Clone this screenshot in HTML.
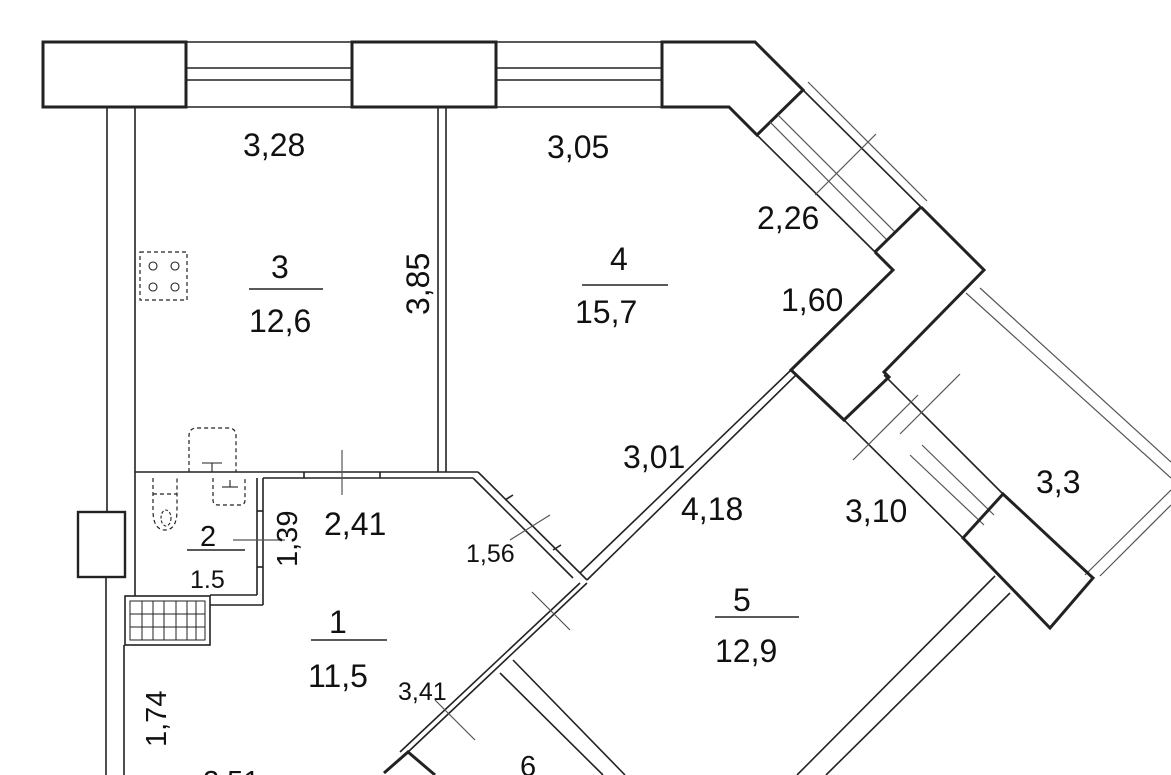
<!DOCTYPE html>
<html><head><meta charset="utf-8"><style>
html,body{margin:0;padding:0;background:#fff;}
svg{display:block}
text{font-family:"Liberation Sans",sans-serif;fill:#111;}
</style></head><body>
<svg width="1171" height="775" viewBox="0 0 1171 775" xmlns="http://www.w3.org/2000/svg">
<g fill="none" stroke="#222" stroke-width="1.6">
<rect x="43" y="42" width="143" height="65" stroke-width="3"/>
<rect x="352" y="42" width="144" height="65" stroke-width="3"/>
<line x1="186" y1="42" x2="352" y2="42"/><line x1="186" y1="107" x2="352" y2="107"/>
<line x1="186" y1="68" x2="352" y2="68"/><line x1="186" y1="80" x2="352" y2="80"/>
<line x1="496" y1="42" x2="662" y2="42"/><line x1="496" y1="107" x2="662" y2="107"/>
<line x1="496" y1="68" x2="662" y2="68"/><line x1="496" y1="80" x2="662" y2="80"/>
<polygon points="662,42 755,42 803,90 757,135 729,107 662,107" stroke-width="3"/>
<line x1="757" y1="135" x2="875" y2="252"/>
<line x1="803" y1="90" x2="921" y2="207"/>
<line x1="808" y1="82" x2="927" y2="201" stroke="#555" stroke-width="1.2"/>
<line x1="778" y1="115" x2="895" y2="232" stroke="#555" stroke-width="1.2"/>
<line x1="770" y1="122" x2="887" y2="240" stroke="#555" stroke-width="1.2"/>
<line x1="875" y1="252" x2="921" y2="207" stroke-width="3"/>
<line x1="815" y1="195" x2="876" y2="134" stroke="#555" stroke-width="1.2"/>
<polyline points="875,252 893,270 791,370 844,420 889,377 884,372 984,270 921,207" stroke-width="3"/>
<line x1="966" y1="293" x2="1171" y2="478" stroke="#555" stroke-width="1.2"/>
<line x1="980" y1="288" x2="1171" y2="462" stroke="#555" stroke-width="1.2"/>
<line x1="1171" y1="490" x2="1085" y2="575" stroke="#555" stroke-width="1.2"/>
<line x1="1171" y1="505" x2="1100" y2="576" stroke="#555" stroke-width="1.2"/>
<line x1="844" y1="420" x2="963" y2="538"/>
<line x1="884" y1="375" x2="1003" y2="494"/>
<line x1="900" y1="434" x2="960" y2="374" stroke="#555" stroke-width="1.2"/>
<line x1="853" y1="460" x2="918" y2="395" stroke="#555" stroke-width="1.2"/>
<line x1="910" y1="455" x2="984" y2="525" stroke="#555" stroke-width="1.2"/>
<line x1="922" y1="445" x2="994" y2="515" stroke="#555" stroke-width="1.2"/>
<polygon points="963,538 1003,494 1093,578 1050,628" stroke-width="3"/>
<line x1="995" y1="576" x2="797" y2="775"/>
<line x1="1010" y1="593" x2="826" y2="775"/>
<line x1="791" y1="370" x2="580" y2="573"/>
<line x1="796" y1="375" x2="587" y2="580"/>
<line x1="580" y1="573" x2="587" y2="580"/>
<line x1="587" y1="583" x2="408" y2="752"/>
<line x1="580" y1="583" x2="400" y2="752"/>
<line x1="532" y1="592" x2="570" y2="630" stroke="#555" stroke-width="1.2"/>
<line x1="435" y1="700" x2="475" y2="740" stroke="#555" stroke-width="1.2"/>
<line x1="513" y1="660" x2="625" y2="775"/>
<line x1="500" y1="673" x2="603" y2="775"/>
<polyline points="384,773 408,752 435,775" stroke-width="3"/>
<line x1="135" y1="472" x2="478" y2="472"/>
<line x1="263" y1="478" x2="473" y2="478"/>
<line x1="478" y1="472" x2="580" y2="573"/>
<line x1="473" y1="478" x2="573" y2="578"/>
<line x1="505" y1="500" x2="513" y2="495"/><line x1="553" y1="550" x2="561" y2="545"/>
<line x1="342" y1="450" x2="342" y2="495" stroke="#555" stroke-width="1.2"/>
<line x1="304" y1="472" x2="304" y2="478"/><line x1="380" y1="472" x2="380" y2="478"/>
<line x1="510" y1="540" x2="550" y2="515" stroke="#555" stroke-width="1.2"/>
<line x1="438" y1="107" x2="438" y2="472"/>
<line x1="446" y1="107" x2="446" y2="472"/>
<line x1="107" y1="107" x2="107" y2="512"/>
<line x1="135" y1="107" x2="135" y2="596"/>
<rect x="78" y="512" width="47" height="65" stroke-width="2.4"/>
<line x1="106" y1="577" x2="106" y2="775"/>
<line x1="124" y1="645" x2="124" y2="775"/>
<line x1="257" y1="478" x2="257" y2="595"/>
<line x1="263" y1="478" x2="263" y2="605"/>
<line x1="210" y1="595" x2="257" y2="595"/>
<line x1="210" y1="605" x2="263" y2="605"/>
<line x1="263" y1="511" x2="257" y2="511"/><line x1="263" y1="567" x2="257" y2="567"/>
<line x1="233" y1="540" x2="285" y2="540" stroke="#555" stroke-width="1.2"/>
<rect x="125" y="596" width="85" height="49"/>
<rect x="130" y="601" width="75" height="39" stroke-width="1"/>
<g stroke-width="1">
<line x1="142" y1="601" x2="142" y2="640"/><line x1="153" y1="601" x2="153" y2="640"/><line x1="164" y1="601" x2="164" y2="640"/><line x1="176" y1="601" x2="176" y2="640"/><line x1="187" y1="601" x2="187" y2="640"/><line x1="196" y1="601" x2="196" y2="640"/>
<line x1="130" y1="614" x2="205" y2="614"/><line x1="130" y1="627" x2="205" y2="627"/>
</g>
<g stroke-dasharray="4,3" stroke-width="1.2">
<rect x="140" y="252" width="47" height="48"/>
<path d="M189 472 V436 Q189 428 197 428 H228 Q236 428 236 436 V472"/>
<path d="M213 478 V500 Q213 505 218 505 H240 Q245 505 245 500 V478"/>
<path d="M153 478 V510 Q153 530 165 530 Q177 530 177 510 V478"/>
<line x1="153" y1="494" x2="177" y2="494"/>
</g>
<g stroke-width="1.1">
<circle cx="153" cy="266" r="4"/><circle cx="175" cy="266" r="4"/>
<circle cx="153" cy="287" r="4"/><circle cx="175" cy="287" r="4"/>
<line x1="202" y1="463" x2="222" y2="463"/><line x1="212" y1="463" x2="212" y2="472"/>
<line x1="222" y1="487" x2="238" y2="487"/><line x1="230" y1="480" x2="230" y2="487"/>
<ellipse cx="166" cy="518" rx="5" ry="8" stroke-dasharray="3,2"/>
</g>
<line x1="249" y1="289" x2="323" y2="289"/>
<line x1="582" y1="285" x2="668" y2="285"/>
<line x1="187" y1="550" x2="245" y2="550"/>
<line x1="311" y1="640" x2="387" y2="640"/>
<line x1="715" y1="617" x2="799" y2="617"/>
</g>
<g font-size="32">
<text x="243" y="156">3,28</text>
<text x="547" y="158">3,05</text>
<text x="271" y="278">3</text>
<text x="249" y="332">12,6</text>
<text x="610" y="270">4</text>
<text x="575" y="323">15,7</text>
<text x="757" y="229">2,26</text>
<text x="781" y="311">1,60</text>
<text x="623" y="468">3,01</text>
<text x="681" y="520">4,18</text>
<text x="845" y="522">3,10</text>
<text x="1036" y="493">3,3</text>
<text x="324" y="535">2,41</text>
<text x="329" y="633">1</text>
<text x="308" y="687">11,5</text>
<text x="733" y="611">5</text>
<text x="715" y="662">12,9</text>
<text x="200" y="546" font-size="29">2</text>
<text x="520" y="776" font-size="29">6</text>
<text x="203" y="791" font-size="29">2,51</text>
<text transform="translate(429,315) rotate(-90)">3,85</text>
<text transform="translate(297,567) rotate(-90)" font-size="29">1,39</text>
<text transform="translate(166,747) rotate(-90)" font-size="29">1,74</text>
</g>
<g font-size="25">
<text x="466" y="562">1,56</text>
<text x="398" y="700">3,41</text>
<text x="190" y="588">1.5</text>
</g>
</svg>
</body></html>
